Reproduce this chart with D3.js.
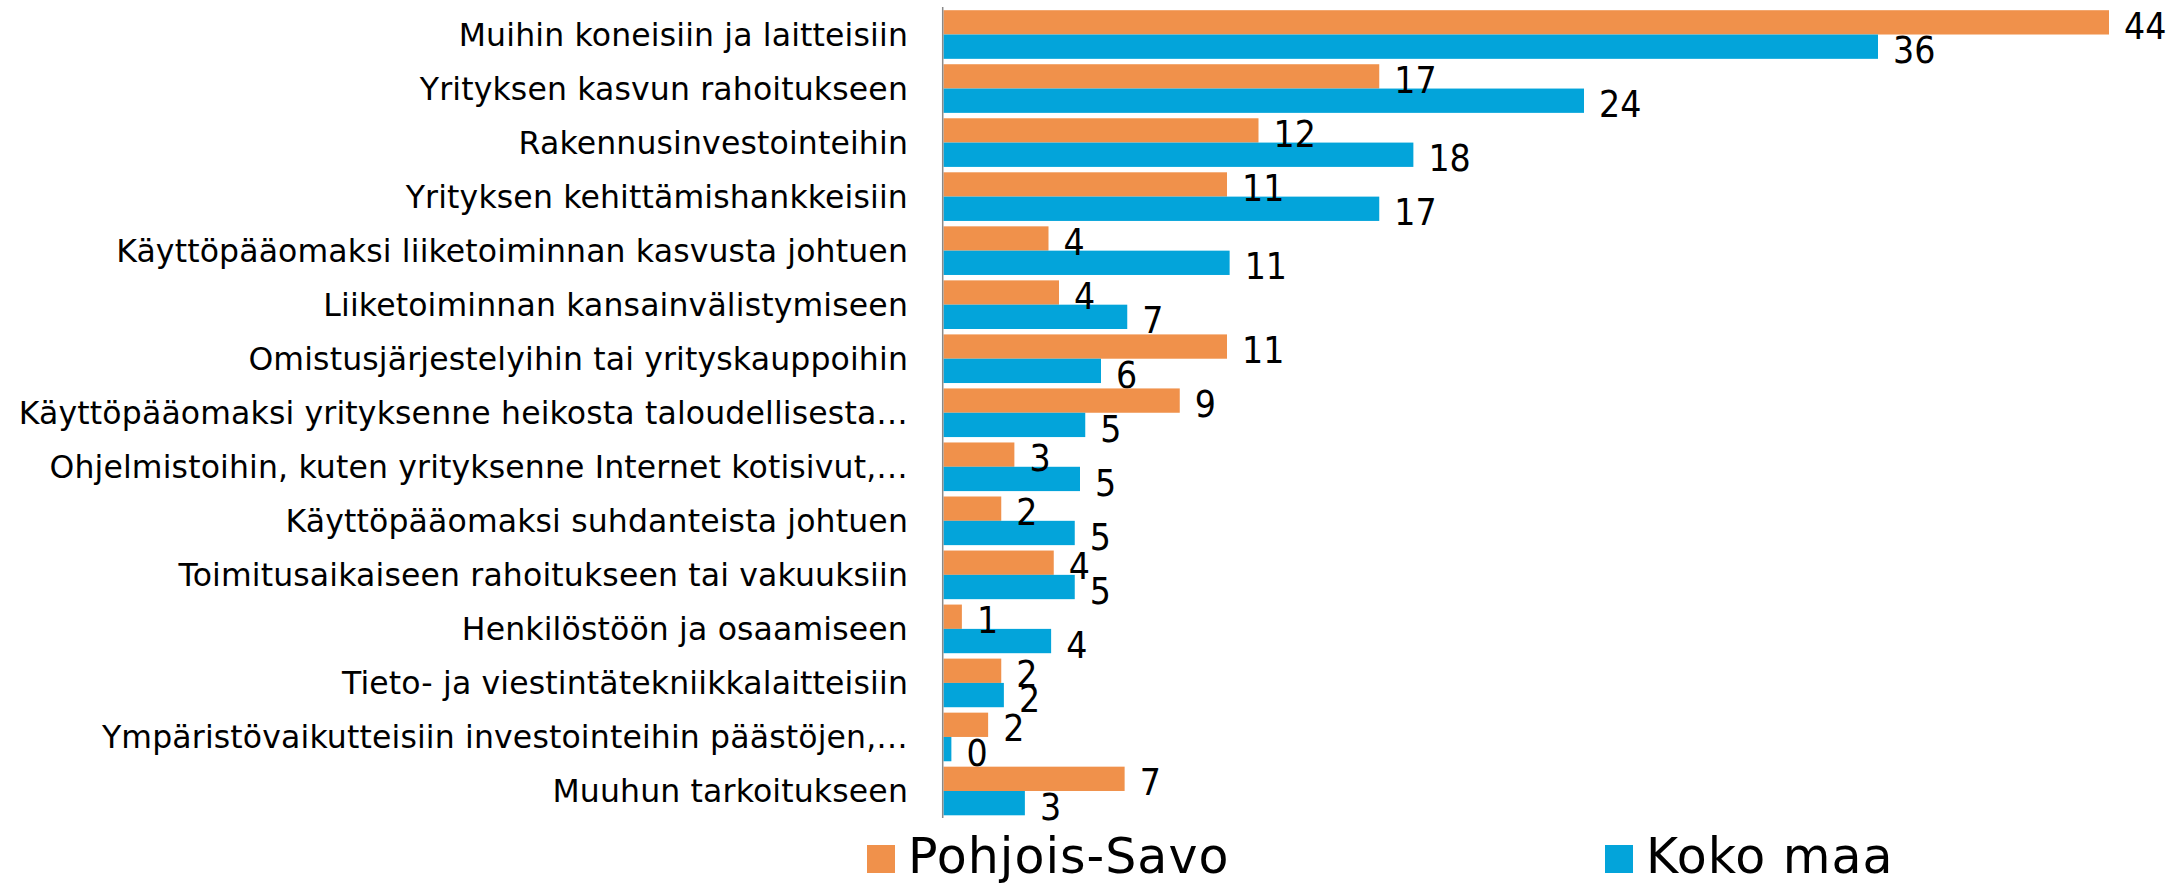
<!DOCTYPE html>
<html>
<head>
    <meta charset="utf-8">
    <title>Rahoituksen käyttökohteet</title>
    <script src="https://d3js.org/d3.v7.min.js"></script>
    <style>
        body {
            margin: 0;
            background: white;
        }
        text {
            font-family: "DejaVu Sans", sans-serif;
            fill: #000;
        }
        .category-label {
            font-size: 31.5px;
            letter-spacing: 0.15px;
        }
        .value-label {
            font-size: 37px;
            font-stretch: condensed;
        }
        .legend-label {
            font-size: 49px;
            letter-spacing: 1px;
        }
    </style>
</head>
<body>
    <div id="chart"></div>

    <script>
        // kategoriat ylhäältä alas
        const categories = [
            "Muihin koneisiin ja laitteisiin",
            "Yrityksen kasvun rahoitukseen",
            "Rakennusinvestointeihin",
            "Yrityksen kehittämishankkeisiin",
            "Käyttöpääomaksi liiketoiminnan kasvusta johtuen",
            "Liiketoiminnan kansainvälistymiseen",
            "Omistusjärjestelyihin tai yrityskauppoihin",
            "Käyttöpääomaksi yrityksenne heikosta taloudellisesta…",
            "Ohjelmistoihin, kuten yrityksenne Internet kotisivut,…",
            "Käyttöpääomaksi suhdanteista johtuen",
            "Toimitusaikaiseen rahoitukseen tai vakuuksiin",
            "Henkilöstöön ja osaamiseen",
            "Tieto- ja viestintätekniikkalaitteisiin",
            "Ympäristövaikutteisiin investointeihin päästöjen,…",
            "Muuhun tarkoitukseen"
        ];

        const seriesNames = ["Pohjois-Savo", "Koko maa"];
        const seriesColors = ["#F0914B", "#03A4DA"];

        // arvot (%) luettu kuvasta
        const pohjoisSavo = [44.4, 16.6, 12.0, 10.8, 4.0, 4.4, 10.8, 9.0, 2.7, 2.2, 4.2, 0.7, 2.2, 1.7, 6.9];
        const kokoMaa     = [35.6, 24.4, 17.9, 16.6, 10.9, 7.0, 6.0, 5.4, 5.2, 5.0, 5.0, 4.1, 2.3, 0.3, 3.1];

        const width = 2184;
        const height = 885;
        const axisX = 943.5;

        const svg = d3.select("#chart")
            .append("svg")
            .attr("width", width)
            .attr("height", height);

        const x = d3.scaleLinear()
            .domain([0, 45])
            .range([axisX, axisX + 45 * 26.25]);

        const y = d3.scaleBand()
            .domain(categories)
            .range([7.5, 818])
            .paddingInner(0.1)
            .paddingOuter(0.05);

        const ySeries = d3.scaleBand()
            .domain(seriesNames)
            .range([0, y.bandwidth()]);

        const rows = categories.map((c, i) => ({
            category: c,
            values: [pohjoisSavo[i], kokoMaa[i]]
        }));

        const fmt = d3.format(".0f");

        const groups = svg.selectAll(".row")
            .data(rows)
            .enter()
            .append("g")
            .attr("class", "row")
            .attr("transform", d => `translate(0,${y(d.category)})`);

        // palkit
        groups.selectAll("rect")
            .data(d => d.values.map((v, j) => ({ v: v, s: seriesNames[j], j: j })))
            .enter()
            .append("rect")
            .attr("x", x(0))
            .attr("y", d => ySeries(d.s))
            .attr("width", d => x(d.v) - x(0))
            .attr("height", ySeries.bandwidth())
            .style("fill", d => seriesColors[d.j]);

        // arvojen tekstit
        groups.selectAll(".value-label")
            .data(d => d.values.map((v, j) => ({ v: v, s: seriesNames[j] })))
            .enter()
            .append("text")
            .attr("class", "value-label")
            .attr("x", d => x(d.v) + 15)
            .attr("y", d => ySeries(d.s) + ySeries.bandwidth() / 2)
            .attr("dy", "0.45em")
            .text(d => fmt(d.v));

        // kategorioiden nimet
        svg.selectAll(".category-label")
            .data(categories)
            .enter()
            .append("text")
            .attr("class", "category-label")
            .attr("x", 908)
            .attr("y", d => y(d) + y.bandwidth() / 2)
            .attr("dy", "0.36em")
            .attr("text-anchor", "end")
            .text(d => d);

        // pystyakseli
        svg.append("line")
            .attr("x1", 942.7)
            .attr("x2", 942.7)
            .attr("y1", 7)
            .attr("y2", 818)
            .style("stroke", "#898989")
            .style("stroke-width", 1.5);

        // selite
        const legendX = [867, 1605];
        const legend = svg.selectAll(".legend")
            .data(seriesNames)
            .enter()
            .append("g")
            .attr("class", "legend")
            .attr("transform", (d, i) => `translate(${legendX[i]},845)`);

        legend.append("rect")
            .attr("width", 28)
            .attr("height", 28)
            .style("fill", (d, i) => seriesColors[i]);

        legend.append("text")
            .attr("class", "legend-label")
            .attr("x", 41)
            .attr("y", 28)
            .text(d => d);
    </script>
</body>
</html>
